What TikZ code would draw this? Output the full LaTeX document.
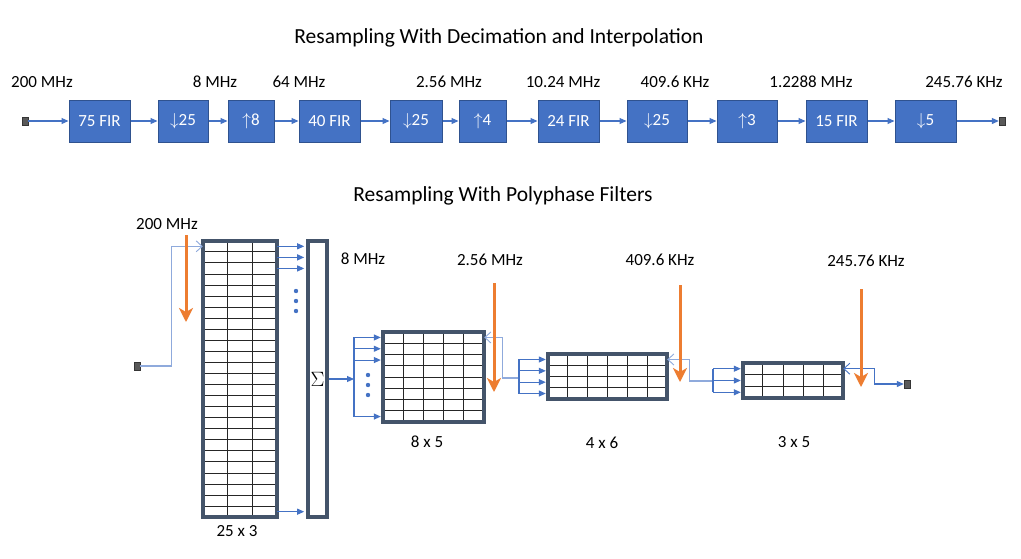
\documentclass[tikz,border=0pt]{standalone}
\usepackage{fontspec}
\setmainfont{Carlito}
\usetikzlibrary{positioning,arrows.meta,calc}

\definecolor{stagefill}{HTML}{4472C4}
\definecolor{stageedge}{HTML}{2F528F}
\definecolor{wireblue}{HTML}{4472C4}
\definecolor{fbblue}{HTML}{8FAADC}
\definecolor{frameslate}{HTML}{44546A}
\definecolor{rateorange}{HTML}{ED7D31}
\definecolor{portgray}{HTML}{595959}

\tikzset{
  stage/.style={draw=stageedge, line width=1pt, fill=stagefill, text=white, minimum height=42pt,
    inner sep=0pt, font=\fontsize{17}{19}\selectfont},
  port/.style={draw=portgray!60!black, fill=portgray, minimum width=6pt, minimum height=8pt, inner sep=0pt},
  wire/.style={wireblue, line width=1.1pt, -{Triangle[length=7pt,width=6pt]}},
  busline/.style={wireblue, line width=1.1pt},
  fbwire/.style={fbblue, line width=1.3pt},
  openhead/.style={{Straight Barb[length=6pt,width=11pt,line width=0.9pt]}-},
  ratearrow/.style={rateorange, line width=3pt, -{Stealth[length=14pt,width=14pt,inset=4pt]}},
  label/.style={font=\fontsize{17}{19}\selectfont, inner sep=0pt},
  heading/.style={font=\fontsize{21.5}{24}\selectfont, inner sep=0pt},
  cellbox/.style={fill=white, inner sep=0pt},
  cellline/.style={black!85, line width=0.9pt},
  matframe/.style={frameslate, line width=3.6pt},
  fandot/.style={fill=wireblue},
}

% polyphase block: name, centre, width, height, rows, cols
\newcommand\polyblock[6]{%
  \node[cellbox, minimum width=#3, minimum height=#4] (#1) at #2 {};
  \pgfmathtruncatemacro\lastrow{#5-1}
  \pgfmathtruncatemacro\lastcol{#6-1}
  \foreach \r in {1,...,\lastrow}
    \draw[cellline] ($(#1.north west)!\r/#5!(#1.south west)$) -- ($(#1.north east)!\r/#5!(#1.south east)$);
  \foreach \c in {1,...,\lastcol}
    \draw[cellline] ($(#1.north west)!\c/#6!(#1.north east)$) -- ($(#1.south west)!\c/#6!(#1.south east)$);
  \draw[matframe] (#1.north west) rectangle (#1.south east);
  \foreach \r in {1,...,#5}{
    \pgfmathsetmacro\fr{(\r-0.5)/#5}
    \coordinate (#1-w\r) at ($(#1.north west)!\fr!(#1.south west)$);
    \coordinate (#1-e\r) at ($(#1.north east)!\fr!(#1.south east)$);
  }
}

\begin{document}
\begin{tikzpicture}[x=1pt,y=-1pt]
  \fill[white] (0,0) rectangle (1021,558);
  \useasboundingbox (0,0) rectangle (1021,558);

  % decimation / interpolation chain
  \node[heading] (title1) at (499,38) {Resampling With Decimation and Interpolation};

  \node[port] (pin) at (25,121) {};
  \node[port] (pout) at (1002,121) {};
  \foreach \name/\cx/\w/\txt in {fir75/99.5/61/75 FIR, dec25a/183/50/$\downarrow$25, int8/251/46/$\uparrow$8,
      fir40/329.5/61/40 FIR, dec25b/416/52/$\downarrow$25, int4/482.5/47/$\uparrow$4,
      fir24/568.5/61/24 FIR, dec25c/657/60/$\downarrow$25, int3/747/60/$\uparrow$3,
      fir15/836.5/61/15 FIR, dec5/925.5/61/$\downarrow$5}
    \node[stage, minimum width=\w pt] (\name) at (\cx,121) {\txt};
  \foreach \a/\b in {pin/fir75, fir75/dec25a, dec25a/int8, int8/fir40, fir40/dec25b, dec25b/int4,
      int4/fir24, fir24/dec25c, dec25c/int3, int3/fir15, fir15/dec5, dec5/pout}
    \draw[wire] (\a) -- (\b);

  \foreach \name/\cx/\txt in {r200/42/200 MHz, r8/215/8 MHz, r64/299/64 MHz, r256/449/2.56 MHz,
      r1024/563/10.24 MHz, r4096/675/409.6 KHz, r12288/811/1.2288 MHz, r24576/964/245.76 KHz}
    \node[label] (\name) at (\cx,82) {\txt};

  % polyphase version
  \node[heading] (title2) at (503,196) {Resampling With Polyphase Filters};

  \polyblock{m1}{(240,379)}{74pt}{276pt}{25}{3}
  \node[draw=frameslate, line width=3.6pt, fill=white, minimum width=19pt, minimum height=276pt,
    inner sep=0pt, font=\fontsize{22}{24}\selectfont] (sum) at (317.5,379) {$\Sigma$};
  \polyblock{m2}{(433.5,377)}{101pt}{90pt}{8}{5}
  \polyblock{m3}{(607.5,376.5)}{119pt}{45pt}{4}{6}
  \polyblock{m4}{(793,380.5)}{100pt}{35pt}{3}{5}

  \node[port] (pin2) at (137,366) {};
  \node[port] (pout2) at (907,384) {};

  % input into first block
  \draw[fbwire, openhead] (m1-w1) -- ++(-31,0) |- (pin2);
  % taps into the adder
  \foreach \r in {1,2,3,25}
    \draw[wire, shorten >=2pt] (m1-e\r) -- (m1-e\r -| sum.west);
  \foreach \y in {291,301,311}
    \fill[fandot] (296,\y) circle (2.2pt);

  % adder to 8 x 5
  \coordinate (bus2) at (354,379);
  \draw[wire] (sum.east) -- (bus2);
  \draw[busline] (bus2 |- m2-w1) -- (bus2 |- m2-w8);
  \foreach \r in {1,2,3,8}
    \draw[wire, shorten >=2pt] (bus2 |- m2-w\r) -- (m2-w\r);
  \foreach \y in {375,385,395}
    \fill[fandot] (368,\y) circle (2.2pt);

  % 8 x 5 to 4 x 6
  \coordinate (bus3) at (519,378);
  \draw[fbwire, openhead] (m2-e1) -- ++(18,0) |- (bus3);
  \draw[busline] (bus3 |- m3-w1) -- (bus3 |- m3-w4);
  \foreach \r in {1,...,4}
    \draw[wire, shorten >=2pt] (bus3 |- m3-w\r) -- (m3-w\r);

  % 4 x 6 to 3 x 5
  \coordinate (bus4) at (713,381);
  \draw[fbwire, openhead] (m3-e1) -- ++(22,0) |- (bus4);
  \draw[busline] (bus4 |- m4-w1) -- (bus4 |- m4-w3);
  \foreach \r in {1,...,3}
    \draw[wire, shorten >=2pt] (bus4 |- m4-w\r) -- (m4-w\r);

  % 3 x 5 to output
  \draw[wireblue, line width=1.1pt, {Straight Barb[length=6pt,width=11pt,line width=0.9pt]}-{Triangle[length=7pt,width=6pt]}]
    (m4-e1) -- ++(31,0) |- (pout2);

  % sample-rate arrows
  \foreach \name/\cx/\ytop/\ybot in {o1/186/235/322, o2/494/283/392, o3/680/285/382, o4/861/289/387}{
    \coordinate (\name-a) at (\cx,\ytop);
    \coordinate (\name-b) at (\cx,\ybot);
    \draw[ratearrow] (\name-a) -- (\name-b);
  }

  \node[label] (p200) at (167,224) {200 MHz};
  \node[label] (p8) at (363,259) {8 MHz};
  \node[label] (p256) at (490,260) {2.56 MHz};
  \node[label] (p4096) at (660,260) {409.6 KHz};
  \node[label] (p24576) at (866,261) {245.76 KHz};

  \node[label] (d1) at (237,531) {25 x 3};
  \node[label] (d2) at (427,442) {8 x 5};
  \node[label] (d3) at (602,443) {4 x 6};
  \node[label] (d4) at (794,442) {3 x 5};
\end{tikzpicture}
\end{document}
